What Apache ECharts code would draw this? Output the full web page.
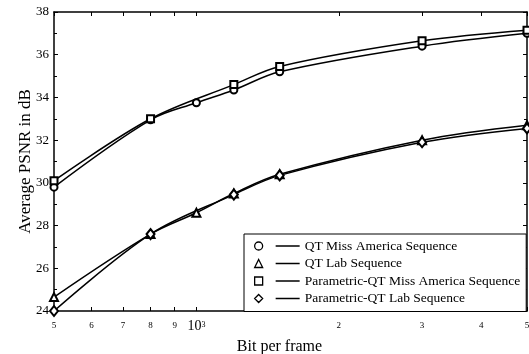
<!DOCTYPE html>
<html>
<head>
<meta charset="utf-8">
<script src="https://cdn.jsdelivr.net/npm/echarts@6/dist/echarts.min.js"></script>
<style>
html,body{margin:0;padding:0;background:#fff}
#chart{width:529px;height:354px}
</style>
</head>
<body>
<div id="chart"></div>
<script>
// bit per frame (log axis) and average PSNR in dB
var bits = [500, 800, 1000, 1200, 1500, 3000, 5000];
var qtMiss = [29.8, 32.95, 33.75, 34.35, 35.2, 36.4, 37.0];
var qtLab = [24.65, 27.6, 28.6, 29.5, 30.4, 32.0, 32.7];
var pBits = [500, 800, 1200, 1500, 3000, 5000];
var pqtMiss = [30.1, 33.0, 34.6, 35.45, 36.65, 37.15];
var pqtLab = [24.0, 27.6, 29.45, 30.35, 31.9, 32.55];
var seriesNames = ['QT Miss America Sequence', 'QT Lab Sequence', 'Parametric-QT Miss America Sequence', 'Parametric-QT Lab Sequence'];
var xTicks = [500, 600, 700, 800, 900, 1000, 2000, 3000, 4000, 5000];
var xTickLabels = ['5', '6', '7', '8', '9', '{big|10}{sup|3}', '2', '3', '4', '5'];

var serif = 'Liberation Serif';

function pairs(xs, ys){
	var out = [];
	for(var i=0;i<xs.length;i++){
		out.push([xs[i], ys[i]]);
	}
	return out;
}

var legendPaths = [
	'path://M0,4 A4,4 0 1,1 8,4 A4,4 0 1,1 0,4 Z M21,4 L45,4',
	'path://M4,0 L8,8 L0,8 Z M21,4 L45,4',
	'path://M0,0 L8,0 L8,8 L0,8 Z M21,4 L45,4',
	'path://M4,0 L8,4 L4,8 L0,4 Z M21,4 L45,4'
];
var symbols = ['emptyCircle', 'emptyTriangle', 'emptyRect', 'emptyDiamond'];
var symbolSizes = [7, 8, 7, [8, 10]];
var datas = [pairs(bits, qtMiss), pairs(bits, qtLab), pairs(pBits, pqtMiss), pairs(pBits, pqtLab)];

var series = [];
var legendData = [];
for(var i=0;i<4;i++){
	series.push({
		name: seriesNames[i],
		type: 'line',
		data: datas[i],
		smooth: 0.35,
		symbol: symbols[i],
		symbolSize: symbolSizes[i],
		clip: false,
		lineStyle: {color: '#000', width: 1.5},
		itemStyle: {color: '#000', borderWidth: 1.3},
		z: 3
	});
	legendData.push({
		name: seriesNames[i],
		icon: legendPaths[i],
		itemStyle: {color: '#fff', borderColor: '#000', borderWidth: 1.3}
	});
}

var myChart = echarts.init(document.getElementById('chart'));
var option = {
	animation: false,
	backgroundColor: '#fff',
	textStyle: {fontFamily: serif, color: '#000'},
	grid: {left: 54, right: 2, top: 12, bottom: 43, outerBoundsMode: 'none', containLabel: false},
	legend: {
		orient: 'vertical',
		left: 244,
		top: 234,
		data: legendData,
		itemWidth: 45,
		itemHeight: 8,
		itemGap: 3.5,
		padding: [5, 6, 6, 10],
		backgroundColor: '#fff',
		borderColor: '#000',
		borderWidth: 1,
		selectedMode: false,
		textStyle: {fontFamily: serif, fontSize: 13.5, color: '#000', lineHeight: 13}
	},
	xAxis: [{
		type: 'log',
		logBase: 10,
		min: 500,
		max: 5000,
		position: 'bottom',
		name: 'Bit per frame',
		nameLocation: 'middle',
		nameGap: 28,
		nameMoveOverlap: false,
		nameTextStyle: {fontFamily: serif, fontSize: 16, color: '#000', padding: [0, 22, 0, 0]},
		axisLine: {lineStyle: {color: '#000', width: 1.5}},
		axisTick: {show: true, inside: true, length: 4, customValues: xTicks, lineStyle: {color: '#000'}},
		axisLabel: {
			customValues: xTicks,
			margin: 10,
			fontFamily: serif,
			fontSize: 9,
			color: '#000',
			formatter: function(v){
				var idx = xTicks.indexOf(Math.round(v));
				return idx >= 0 ? xTickLabels[idx] : '';
			},
			rich: {
				big: {fontFamily: serif, fontSize: 14, lineHeight: 10, color: '#000'},
				sup: {fontFamily: serif, fontSize: 8, lineHeight: 8, color: '#000', verticalAlign: 'top', padding: [0, 0, 8, 0]}
			}
		},
		splitLine: {show: false},
		minorTick: {show: false}
	}, {
		type: 'log',
		logBase: 10,
		min: 500,
		max: 5000,
		position: 'top',
		axisLine: {lineStyle: {color: '#000', width: 1.5}},
		axisTick: {show: true, inside: true, length: 4, customValues: xTicks, lineStyle: {color: '#000'}},
		axisLabel: {show: false},
		splitLine: {show: false}
	}],
	yAxis: [{
		type: 'value',
		min: 24,
		max: 38,
		interval: 2,
		position: 'left',
		name: 'Average PSNR in dB',
		nameLocation: 'middle',
		nameGap: 20,
		nameMoveOverlap: false,
		nameTextStyle: {fontFamily: serif, fontSize: 17, color: '#000'},
		axisLine: {show: true, lineStyle: {color: '#000', width: 1.5}},
		axisTick: {show: true, inside: true, length: 4, lineStyle: {color: '#000'}},
		minorTick: {show: true, splitNumber: 2, length: 3, lineStyle: {color: '#000'}},
		axisLabel: {fontFamily: serif, fontSize: 13, color: '#000', margin: 5},
		splitLine: {show: false}
	}, {
		type: 'value',
		min: 24,
		max: 38,
		interval: 2,
		position: 'right',
		axisLine: {show: true, lineStyle: {color: '#000', width: 1.5}},
		axisTick: {show: true, inside: true, length: 4, lineStyle: {color: '#000'}},
		minorTick: {show: true, splitNumber: 2, length: 3, lineStyle: {color: '#000'}},
		axisLabel: {show: false},
		splitLine: {show: false}
	}],
	series: series
};
myChart.setOption(option);
</script>
</body>
</html>
